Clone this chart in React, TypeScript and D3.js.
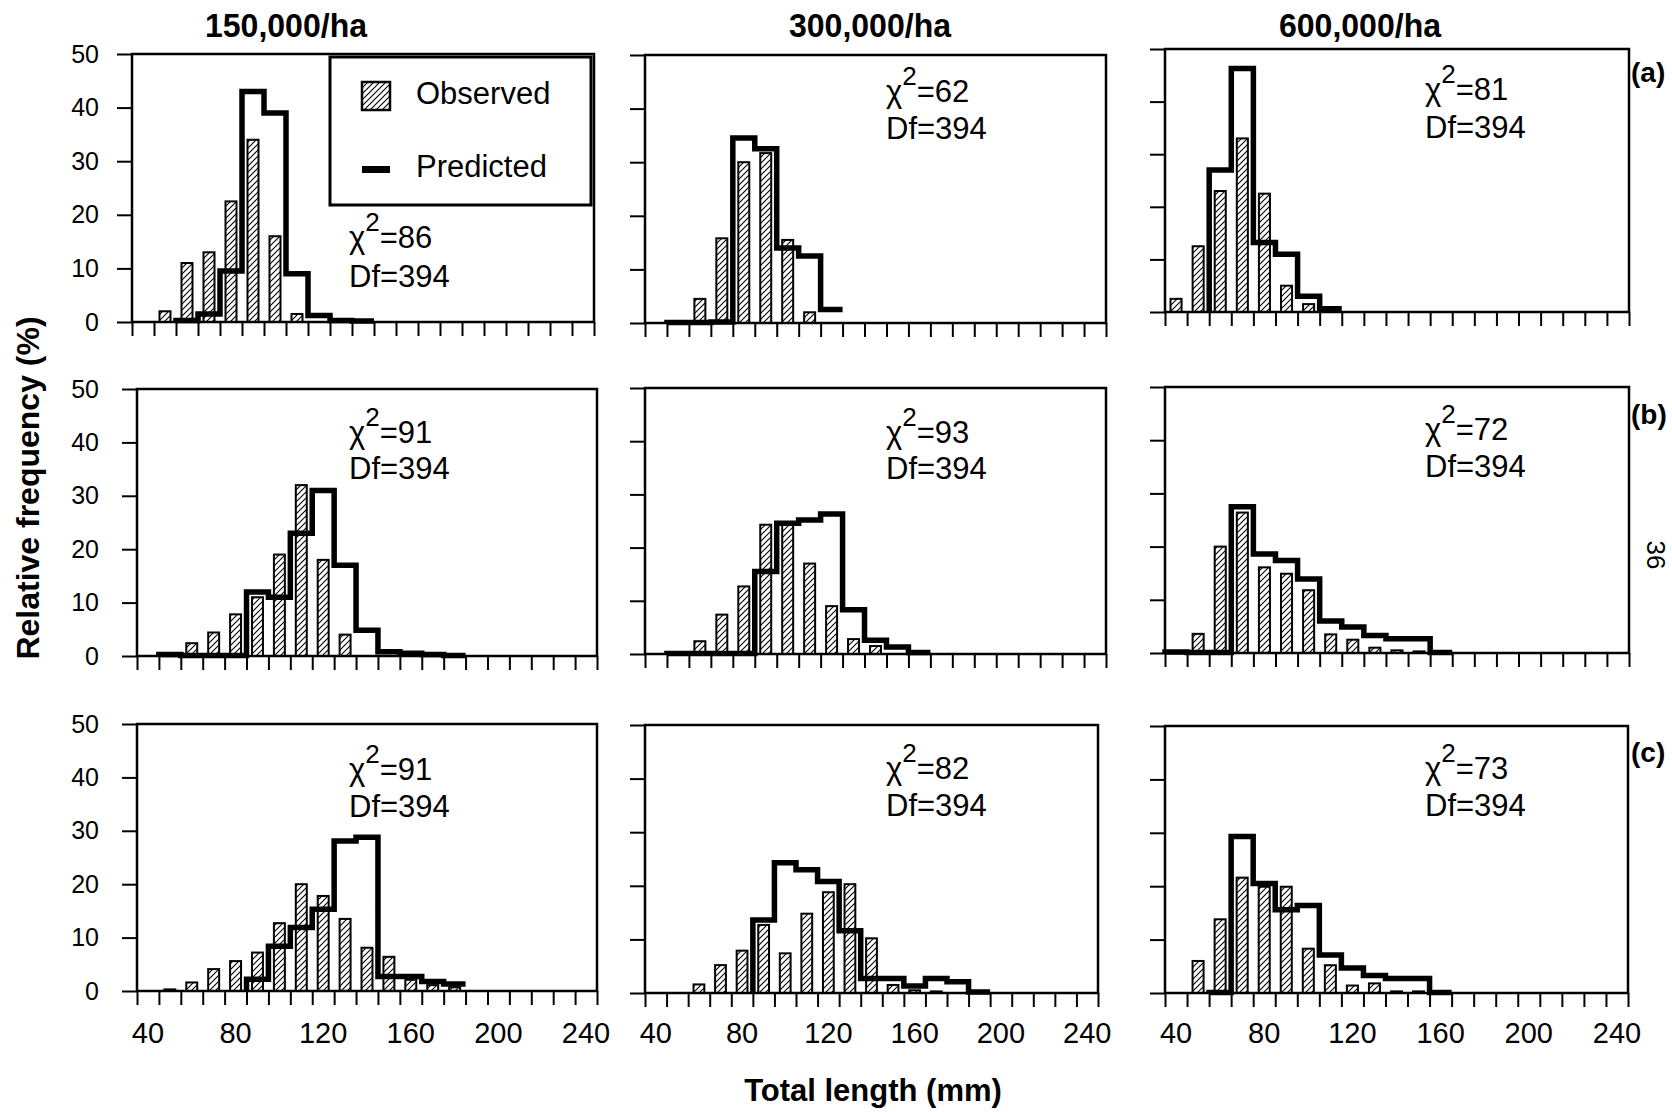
import { useEffect, useRef } from 'react'
import * as d3 from 'd3'

// length classes (mm), each class 10 mm wide
const binCenters = [40, 50, 60, 70, 80, 90, 100, 110, 120, 130, 140, 150, 160, 170, 180, 190]
const densityLabels = ['150,000/ha', '300,000/ha', '600,000/ha']
const rowTags = ['(a)', '(b)', '(c)']
const yTicks = [0, 10, 20, 30, 40, 50]
const xTickLabels = [40, 80, 120, 160, 200, 240]

// observed relative frequency (%), hatched bars
const obsA150 = [0, 2, 11, 13, 22.5, 34, 16, 1.5, 0, 0, 0, 0, 0, 0, 0, 0]
const obsA300 = [0, 0, 4.5, 15.8, 30, 31.7, 15.5, 2, 0, 0, 0, 0, 0, 0, 0, 0]
const obsA600 = [2.5, 12.5, 23, 33, 22.5, 5, 1.5, 0, 0, 0, 0, 0, 0, 0, 0, 0]
const obsB150 = [0, 0, 2.4, 4.4, 7.8, 11, 19, 32, 18, 4, 0, 0, 0, 0, 0, 0]
const obsB300 = [0, 0, 2.4, 7.4, 12.7, 24.3, 24.6, 17, 9, 2.8, 1.5, 0, 0, 0, 0, 0]
const obsB600 = [0, 3.6, 20, 26.4, 16.1, 14.9, 11.8, 3.5, 2.5, 1, 0.5, 0.3, 0, 0, 0, 0]
const obsC150 = [0, 0.3, 1.6, 4.1, 5.6, 7.2, 12.7, 20, 17.8, 13.5, 8.1, 6.4, 2.1, 1.1, 0.7, 0]
const obsC300 = [0, 0, 1.6, 5.2, 7.9, 12.7, 7.4, 14.8, 18.8, 20.3, 10.2, 1.5, 0.5, 0.3, 0, 0]
const obsC600 = [0, 6, 13.8, 21.6, 19.9, 19.9, 8.3, 5.2, 1.4, 1.8, 0.3, 0.3, 0, 0, 0, 0]

// predicted relative frequency (%), thick step outline (null = not drawn)
const predA150 = [null, null, 0.3, 1.5, 9.5, 43, 39, 9, 1.2, 0.3, 0.2, null, null, null, null, null]
const predA300 = [null, 0.1, 0.1, 0.2, 34.5, 32.5, 14, 12.5, 2.5, null, null, null, null, null, null, null]
const predA600 = [null, null, 27, 46.3, 13.2, 11, 3, 0.6, null, null, null, null, null, null, null, null]
const predB150 = [null, 0.3, 0.1, 0.1, 0.1, 12, 11, 23, 31, 17, 4.8, 0.8, 0.5, 0.3, 0.1, null]
const predB300 = [null, 0.1, 0.1, 0.1, 0.1, 15.5, 24.6, 25.2, 26.3, 8.3, 2.6, 1.3, 0.3, null, null, null]
const predB600 = [0.2, 0.1, 0.1, 27.5, 18.6, 17.4, 13.9, 6, 4.9, 3.3, 2.7, 2.7, 0.1, null, null, null]
const predC150 = [null, null, null, null, null, 2.2, 8.4, 11.9, 15.3, 28.1, 28.8, 2.7, 2.7, 1.8, 1.3, null]
const predC300 = [null, null, null, null, null, 13.6, 24.3, 23, 20.8, 11.6, 2.7, 2.7, 1.3, 2.7, 2.1, 0.2]
const predC600 = [null, null, 0.1, 29.3, 20.5, 15.6, 16.4, 7.1, 4.7, 3.3, 2.7, 2.7, 0.1, null, null, null]

const chiRowA = [86, 62, 81]
const chiRowB = [91, 93, 72]
const chiRowC = [91, 82, 73]
const degreesFreedom = 394

const observed = [
  [obsA150, obsA300, obsA600],
  [obsB150, obsB300, obsB600],
  [obsC150, obsC300, obsC600],
]
const predicted = [
  [predA150, predA300, predA600],
  [predB150, predB300, predB600],
  [predC150, predC300, predC600],
]
const chiValues = [chiRowA, chiRowB, chiRowC]

// panel frames in page pixels (the scanned figure is slightly uneven)
const frames = [
  [
    { l: 132, r: 594, t: 54, b: 322 },
    { l: 645, r: 1106, t: 55, b: 323 },
    { l: 1165, r: 1629, t: 49, b: 312 },
  ],
  [
    { l: 137, r: 597, t: 389, b: 656 },
    { l: 645, r: 1106, t: 388, b: 654 },
    { l: 1165, r: 1629, t: 387, b: 653 },
  ],
  [
    { l: 137, r: 597, t: 724, b: 991 },
    { l: 645, r: 1098, t: 725, b: 993 },
    { l: 1165, r: 1628, t: 726, b: 993 },
  ],
]
// chi-square text: x, baseline of first line, baseline of second line
const chiPos = [
  [[349, 248, 287], [886, 102, 139], [1425, 100, 138]],
  [[349, 443, 479], [886, 443, 479], [1425, 440, 477]],
  [[349, 780, 817], [886, 779, 816], [1425, 779, 816]],
]

const FONT = "'Liberation Sans', Arial, Helvetica, sans-serif"

export default function App() {
  const svgRef = useRef<SVGSVGElement>(null)

  useEffect(() => {
    if (!svgRef.current) return
    const svg = d3.select(svgRef.current)
    svg.selectAll('*').remove()

    const defs = svg.append('defs')
    const pat = defs
      .append('pattern')
      .attr('id', 'hatch')
      .attr('patternUnits', 'userSpaceOnUse')
      .attr('width', 6)
      .attr('height', 6)
    pat.append('rect').attr('width', 6).attr('height', 6).attr('fill', '#fff')
    pat
      .append('path')
      .attr('d', 'M-1,1 l2,-2 M0,6 l6,-6 M5,7 l2,-2')
      .attr('stroke', '#000')
      .attr('stroke-width', 1.1)

    svg.append('rect').attr('width', 1672).attr('height', 1112).attr('fill', '#fff')

    frames.forEach((row, ri) =>
      row.forEach((f, ci) => {
        const x = d3.scaleLinear().domain([35, 245]).range([f.l, f.r])
        const y = d3.scaleLinear().domain([0, 50]).range([f.b, f.t])
        const g = svg.append('g')

        // y axis
        const yAxis = d3
          .axisLeft(y)
          .tickValues(yTicks)
          .tickSize(15)
          .tickPadding(f.l - 15 - 99)
        if (ci > 0) yAxis.tickFormat(() => '')
        const yg = g.append('g').attr('transform', `translate(${f.l},0)`).call(yAxis)
        yg.select('.domain').remove()
        yg.selectAll('line').attr('stroke', '#000').attr('stroke-width', 2)
        yg.selectAll('text')
          .attr('font-family', FONT)
          .attr('font-size', 25)
          .attr('fill', '#000')

        // x axis ticks at class boundaries
        const xAxis = d3
          .axisBottom(x)
          .tickValues(d3.range(35, 246, 10))
          .tickSize(14)
          .tickFormat(() => '')
        const xg = g.append('g').attr('transform', `translate(0,${f.b})`).call(xAxis)
        xg.select('.domain').remove()
        xg.selectAll('line').attr('stroke', '#000').attr('stroke-width', 2)

        if (ri === 2) {
          g.selectAll('.xlab')
            .data(xTickLabels)
            .enter()
            .append('text')
            .attr('x', (d) => x(d))
            .attr('y', 1043)
            .attr('text-anchor', 'middle')
            .attr('font-family', FONT)
            .attr('font-size', 29)
            .text((d) => d)
        }

        // observed bars
        const obs = binCenters
          .map((c, i) => ({ c, v: observed[ri][ci][i] }))
          .filter((d) => d.v > 0)
        g.selectAll('.obs')
          .data(obs)
          .enter()
          .append('rect')
          .attr('x', (d) => x(d.c - 2.5))
          .attr('width', (d) => x(d.c + 2.5) - x(d.c - 2.5))
          .attr('y', (d) => y(d.v))
          .attr('height', (d) => y(0) - y(d.v))
          .attr('fill', 'url(#hatch)')
          .attr('stroke', '#000')
          .attr('stroke-width', 2)

        // predicted step outline
        const pred = binCenters
          .map((c, i) => ({ c, v: predicted[ri][ci][i] }))
          .filter((d) => d.v !== null) as { c: number; v: number }[]
        const pts: [number, number][] = [[x(pred[0].c - 5), y(0)]]
        pred.forEach((d) => {
          pts.push([x(d.c - 5), y(d.v)])
          pts.push([x(d.c + 5), y(d.v)])
        })
        g.append('path')
          .attr('d', d3.line()(pts))
          .attr('fill', 'none')
          .attr('stroke', '#000')
          .attr('stroke-width', 5.5)
          .attr('stroke-linejoin', 'miter')

        // frame
        g.append('rect')
          .attr('x', f.l)
          .attr('y', f.t)
          .attr('width', f.r - f.l)
          .attr('height', f.b - f.t)
          .attr('fill', 'none')
          .attr('stroke', '#000')
          .attr('stroke-width', 2.5)

        // chi-square annotation
        const [tx, b1, b2] = chiPos[ri][ci]
        const t1 = g
          .append('text')
          .attr('x', tx)
          .attr('y', b1)
          .attr('font-family', FONT)
          .attr('font-size', 31)
        t1.append('tspan').text('χ')
        t1.append('tspan').attr('dy', -17).attr('font-size', 26).text('2')
        t1.append('tspan').attr('dy', 17).text(`=${chiValues[ri][ci]}`)
        g.append('text')
          .attr('x', tx)
          .attr('y', b2)
          .attr('font-family', FONT)
          .attr('font-size', 31)
          .text(`Df=${degreesFreedom}`)
      })
    )

    // legend in the first panel
    const lg = svg.append('g')
    lg.append('rect')
      .attr('x', 330)
      .attr('y', 57)
      .attr('width', 261)
      .attr('height', 148)
      .attr('fill', '#fff')
      .attr('stroke', '#000')
      .attr('stroke-width', 3)
    lg.append('rect')
      .attr('x', 362)
      .attr('y', 82)
      .attr('width', 28)
      .attr('height', 28)
      .attr('fill', 'url(#hatch)')
      .attr('stroke', '#000')
      .attr('stroke-width', 2.5)
    lg.append('rect').attr('x', 362).attr('y', 166).attr('width', 28).attr('height', 7).attr('fill', '#000')
    lg.append('text')
      .attr('x', 416)
      .attr('y', 104)
      .attr('font-family', FONT)
      .attr('font-size', 31)
      .text('Observed')
    lg.append('text')
      .attr('x', 416)
      .attr('y', 177)
      .attr('font-family', FONT)
      .attr('font-size', 31)
      .text('Predicted')

    // column headers
    const headerX = [286, 870, 1360]
    svg.selectAll('.hdr')
      .data(densityLabels)
      .enter()
      .append('text')
      .attr('x', (_, i) => headerX[i])
      .attr('y', 37)
      .attr('text-anchor', 'middle')
      .attr('font-family', FONT)
      .attr('font-weight', 'bold')
      .attr('font-size', 33)
      .attr('textLength', 162)
      .attr('lengthAdjust', 'spacingAndGlyphs')
      .text((d) => d)

    // row tags
    const tagY = [82, 424, 762]
    svg.selectAll('.tag')
      .data(rowTags)
      .enter()
      .append('text')
      .attr('x', 1631)
      .attr('y', (_, i) => tagY[i])
      .attr('font-family', FONT)
      .attr('font-weight', 'bold')
      .attr('font-size', 28)
      .text((d) => d)

    // axis titles
    svg.append('text')
      .attr('transform', 'translate(39,488) rotate(-90)')
      .attr('text-anchor', 'middle')
      .attr('font-family', FONT)
      .attr('font-weight', 'bold')
      .attr('font-size', 32)
      .text('Relative frequency (%)')
    svg.append('text')
      .attr('x', 873)
      .attr('y', 1101)
      .attr('text-anchor', 'middle')
      .attr('font-family', FONT)
      .attr('font-weight', 'bold')
      .attr('font-size', 31)
      .text('Total length (mm)')

    // page number
    svg.append('text')
      .attr('transform', 'translate(1656,555) rotate(90)')
      .attr('text-anchor', 'middle')
      .attr('dominant-baseline', 'central')
      .attr('font-family', FONT)
      .attr('font-size', 26)
      .text('36')
  }, [])

  return (
    <svg
      ref={svgRef}
      width={1672}
      height={1112}
      viewBox="0 0 1672 1112"
      style={{ position: 'absolute', left: 0, top: 0 }}
    />
  )
}
